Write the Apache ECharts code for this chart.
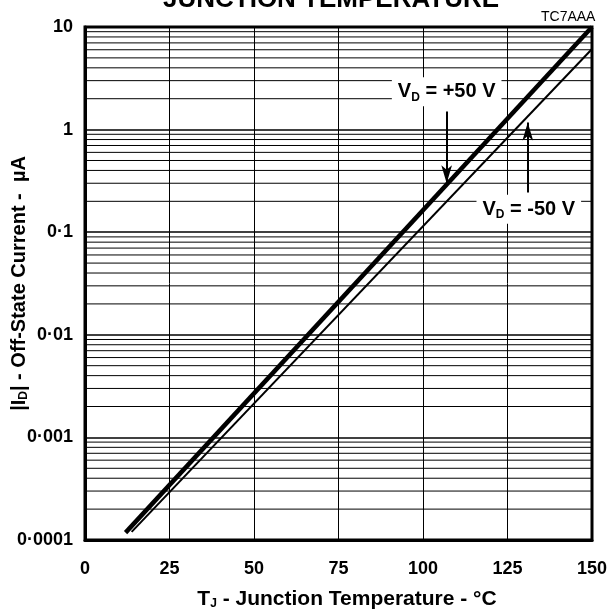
<!DOCTYPE html>
<html>
<head>
<meta charset="utf-8">
<script src="https://cdn.jsdelivr.net/npm/echarts@6/dist/echarts.min.js"></script>
<style>
  html, body { margin: 0; padding: 0; background: #fff; }
  #main { width: 615px; height: 611px; }
</style>
</head>
<body>
<div id="main"></div>
<script>
// x ticks and y decade labels
var xTicks = [0, 25, 50, 75, 100, 125, 150];
var yDecades = [0.0001, 0.001, 0.01, 0.1, 1, 10];
var yLabels = ['0·0001', '0·001', '0·01', '0·1', '1', '10'];

// curves (straight lines on the log scale)
var plus50 = [[12, 0.000118], [150, 10]];
var minus50 = [[13.8, 0.00012], [150, 6.1]];

// annotation positions (data space)
var plusLabel = [107, 2.34];
var plusArrow = [[107, 1.5], [107, 0.30]];
var minusLabel = [131.3, 0.167];
var minusArrow = [[131, 0.244], [131, 1.17]];

var FONT = '"Liberation Sans", Arial, sans-serif';

// minor grid lines 2..9 in each decade, drawn as broken line segments
var minorLines = [];
for (var d = 0; d < yDecades.length - 1; d++) {
  for (var k = 2; k <= 9; k++) {
    var v = yDecades[d] * k;
    minorLines.push([0, v], [150, v], null);
  }
}

var chart = echarts.init(document.getElementById('main'));

function labelFor(v) {
  for (var i = 0; i < yDecades.length; i++) {
    if (Math.abs(Math.log10(v) - Math.log10(yDecades[i])) < 1e-6) return yLabels[i];
  }
  return '';
}

var subStyle = { fontSize: 12, fontWeight: 'bold', fontFamily: FONT, verticalAlign: 'bottom', padding: [10, 0, 0, 0] };

var option = {
  animation: false,
  backgroundColor: '#fff',
  textStyle: { fontFamily: FONT },
  graphic: [
    {
      type: 'text', left: 163, top: -13,
      style: { text: 'JUNCTION TEMPERATURE', font: 'bold 26px ' + FONT, fill: '#000' }
    },
    {
      type: 'text', left: 541, top: 10,
      style: { text: 'TC7AAA', font: '14px ' + FONT, fill: '#000' }
    }
  ],
  grid: {
    left: 85, right: 23, top: 27, bottom: 71,
    outerBoundsMode: 'none', containLabel: false,
    show: true, borderColor: '#000', borderWidth: 3
  },
  xAxis: {
    type: 'value', min: 0, max: 150, interval: 25,
    axisLine: { lineStyle: { color: '#000', width: 3 } },
    axisTick: { show: false },
    axisLabel: {
      color: '#000', fontWeight: 'bold', fontSize: 18, margin: 20, fontFamily: FONT,
      formatter: function (v) { return xTicks.indexOf(v) >= 0 ? String(v) : ''; }
    },
    splitLine: { show: true, lineStyle: { color: '#000', width: 1 } },
    name: 'T{sub|J} - Junction Temperature - °C',
    nameLocation: 'middle', nameGap: 48, nameMoveOverlap: false,
    nameTextStyle: {
      color: '#000', fontWeight: 'bold', fontSize: 21, fontFamily: FONT,
      padding: [0, 0, 0, 17],
      rich: { sub: subStyle }
    }
  },
  yAxis: {
    type: 'log', logBase: 10, min: 0.0001, max: 10,
    axisLine: { lineStyle: { color: '#000', width: 3 } },
    axisTick: { show: false },
    axisLabel: {
      color: '#000', fontWeight: 'bold', fontSize: 18, margin: 12, fontFamily: FONT,
      formatter: labelFor
    },
    splitLine: { show: true, lineStyle: { color: '#000', width: 1.5 } },
    name: '|I{sub|D}| - Off-State Current -  µA',
    nameLocation: 'middle', nameGap: 55, nameRotate: 90, nameMoveOverlap: false,
    nameTextStyle: {
      color: '#000', fontWeight: 'bold', fontSize: 20, fontFamily: FONT,
      rich: { sub: subStyle }
    }
  },
  series: [
    {
      type: 'line', data: minorLines, silent: true, showSymbol: false,
      connectNulls: false, z: 1,
      lineStyle: { color: '#000', width: 1 }
    },
    {
      name: 'VD = +50 V', type: 'line', data: plus50, showSymbol: false,
      lineStyle: { color: '#000', width: 4.5 }, z: 5
    },
    {
      name: 'VD = -50 V', type: 'line', data: minus50, showSymbol: false,
      lineStyle: { color: '#000', width: 2 }, z: 5
    },
    {
      type: 'line', data: [], silent: true, z: 6,
      markPoint: {
        symbol: 'rect', symbolSize: 1, itemStyle: { color: 'transparent' },
        label: {
          show: true, position: 'inside', color: '#000', fontWeight: 'bold', fontSize: 20,
          fontFamily: FONT, backgroundColor: '#fff', padding: [3, 6, 3, 6],
          rich: { sub: { fontSize: 12, fontWeight: 'bold', fontFamily: FONT, verticalAlign: 'bottom', padding: [11, 0, 0, 0] } }
        },
        data: [
          { coord: plusLabel, label: { formatter: 'V{sub|D} = +50 V' } },
          { coord: minusLabel, label: { formatter: 'V{sub|D} = -50 V' } }
        ]
      },
      markLine: {
        silent: true, symbol: ['none', 'arrow'], symbolSize: [8, 18],
        label: { show: false },
        lineStyle: { color: '#000', width: 2, type: 'solid' },
        data: [
          [{ coord: plusArrow[0] }, { coord: plusArrow[1] }],
          [{ coord: minusArrow[0] }, { coord: minusArrow[1] }]
        ]
      }
    }
  ]
};

chart.setOption(option);
</script>
</body>
</html>
